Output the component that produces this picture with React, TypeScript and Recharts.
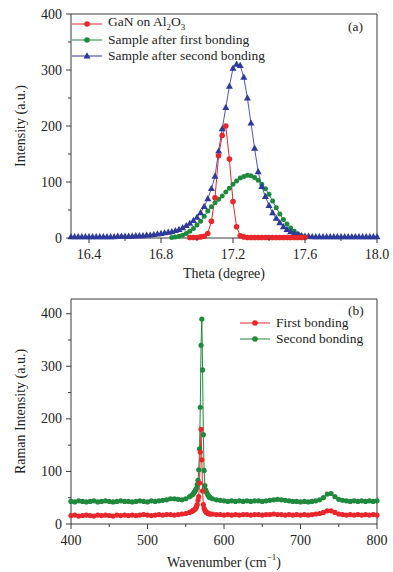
import React from 'react';
import { LineChart, Line, XAxis, YAxis, ReferenceLine } from 'recharts';

const FONT = "'Liberation Serif', 'DejaVu Serif', serif";
const AXIS = '#3a3a3a';
const TEXT = '#222';
const RED = '#e8262b';
const GREEN = '#1f8a3d';
const BLUE = '#2d3a9c';
const BLUE_LINE = '#4b56c6';

// (a) XRD rocking curves, read every 0.02 degree
const thetaDeg = [
  16.3, 16.32, 16.34, 16.36, 16.38, 16.4, 16.42, 16.44, 16.46, 16.48,
  16.5, 16.52, 16.54, 16.56, 16.58, 16.6, 16.62, 16.64, 16.66, 16.68,
  16.7, 16.72, 16.74, 16.76, 16.78, 16.8, 16.82, 16.84, 16.86, 16.88,
  16.9, 16.92, 16.94, 16.96, 16.98, 17.0, 17.02, 17.04, 17.06, 17.08,
  17.1, 17.12, 17.14, 17.16, 17.18, 17.2, 17.22, 17.24, 17.26, 17.28,
  17.3, 17.32, 17.34, 17.36, 17.38, 17.4, 17.42, 17.44, 17.46, 17.48,
  17.5, 17.52, 17.54, 17.56, 17.58, 17.6, 17.62, 17.64, 17.66, 17.68,
  17.7, 17.72, 17.74, 17.76, 17.78, 17.8, 17.82, 17.84, 17.86, 17.88,
  17.9, 17.92, 17.94, 17.96, 17.98, 18.0,
];
const secondBondingXrd = [
  2, 2, 2, 2, 2, 2, 2, 2, 2, 2,
  2, 2, 2, 3, 3, 3, 3, 3, 4, 4,
  4, 5, 5, 6, 7, 8, 9, 10, 11, 13,
  15, 18, 22, 26, 31, 37, 45, 56, 70, 88,
  110, 155, 195, 233, 271, 303, 310, 308, 287, 250,
  205, 160, 118, 92, 74, 58, 45, 35, 27, 20,
  15, 11, 8, 6, 4, 3, 3, 2, 2, 2,
  2, 2, 2, 2, 2, 2, 2, 2, 2, 2,
  2, 2, 2, 2, 2, 2,
];
// starts at 16.86
const FIRST_START = 28;
const firstBondingXrd = [
  1, 2, 3, 5, 8, 12, 17, 23, 30, 39,
  48, 56, 63, 69, 75, 82, 89, 96, 102, 107,
  110, 112, 111, 108, 103, 96, 88, 78, 66, 54,
  43, 33, 25, 18, 12, 7, 4, 2,
];
// starts at 16.96
const GAN_START = 33;
const ganOnSapphire = [
  1, 1, 1, 2, 3, 8, 30, 72, 147, 183,
  200, 141, 65, 20, 4, 2, 1, 1, 1, 1,
  1, 1, 1, 1, 1, 1, 1, 1, 1, 1,
  1, 1, 1,
];
const thetaTicks = [16.4, 16.6, 16.8, 17.0, 17.2, 17.4, 17.6, 17.8, 18.0];
const thetaLabels = [16.4, 16.8, 17.2, 17.6, 18.0];
const countTicks = [0, 50, 100, 150, 200, 250, 300, 350, 400];
const countLabels = [0, 100, 200, 300, 400];

// (b) Raman spectra
const wavenumbers = [
  400, 405, 410, 415, 420, 425, 430, 435, 440, 445,
  450, 455, 460, 465, 470, 475, 480, 485, 490, 495,
  500, 505, 510, 515, 520, 525, 530, 535, 540, 545,
  550, 555, 558, 559, 560, 561, 562, 563, 564, 565,
  566, 567, 568, 569, 570, 571, 572, 573, 574, 575,
  576, 577, 578, 579, 580, 581, 582, 585, 590, 595,
  600, 605, 610, 615, 620, 625, 630, 635, 640, 645,
  650, 655, 660, 665, 670, 675, 680, 685, 690, 695,
  700, 705, 710, 715, 720, 725, 730, 735, 740, 745,
  750, 755, 760, 765, 770, 775, 780, 785, 790, 795,
  800,
];
const ramanSecond = [
  43, 42, 44, 43, 42, 43, 44, 42, 43, 44,
  43, 42, 43, 44, 43, 43, 42, 43, 44, 43,
  42, 44, 43, 44, 45, 46, 48, 48, 47, 46,
  48, 52, 55, 56, 58, 60, 62, 65, 68, 75,
  83, 103, 143, 222, 340, 390, 293, 170, 102, 73,
  65, 61, 58, 55, 53, 51, 50, 48, 46, 45,
  44, 43, 44, 43, 44, 43, 44, 43, 44, 44,
  43, 44, 45, 46, 47, 46, 45, 44, 43, 43,
  42, 43, 42, 43, 44, 46, 50, 57, 58, 52,
  47, 45, 44, 43, 44, 43, 44, 43, 44, 43,
  44,
];
const ramanFirst = [
  16, 17, 15, 16, 17, 16, 15, 17, 16, 17,
  16, 15, 17, 16, 17, 16, 17, 16, 17, 18,
  17, 16, 17, 18, 17, 18, 18, 17, 18, 19,
  20, 22, 24, 25, 26, 27, 28, 30, 33, 37,
  45, 52, 78, 137, 180, 122, 63, 37, 30, 26,
  24, 22, 21, 20, 20, 19, 19, 19, 18, 18,
  17, 18, 17, 18, 17, 18, 18, 17, 18, 18,
  17, 18, 18, 19, 18, 18, 17, 18, 17, 18,
  17, 18, 17, 18, 19, 20, 22, 25, 25, 22,
  19, 18, 17, 18, 17, 18, 17, 18, 17, 18,
  17,
];
const waveTicks = [400, 450, 500, 550, 600, 650, 700, 750, 800];
const waveLabels = [400, 500, 600, 700, 800];
const ramanTicks = [0, 50, 100, 150, 200, 250, 300, 350, 400];
const ramanLabels = [0, 100, 200, 300, 400];

const xrdSecond = thetaDeg.map((t, i) => ({ x: t, y: secondBondingXrd[i] }));
const xrdFirst = firstBondingXrd.map((v, i) => ({ x: thetaDeg[FIRST_START + i], y: v }));
const xrdGan = ganOnSapphire.map((v, i) => ({ x: thetaDeg[GAN_START + i], y: v }));
const ramanSecondData = wavenumbers.map((w, i) => ({ x: w, y: ramanSecond[i] }));
const ramanFirstData = wavenumbers.map((w, i) => ({ x: w, y: ramanFirst[i] }));

const XTick = (props: any) => {
  const { x, y, payload, labels, digits } = props;
  const major = labels.includes(payload.value);
  return (
    <g>
      <line x1={x} x2={x} y1={y} y2={y + (major ? 5 : 3)} stroke={AXIS} />
      {major && (
        <text x={x} y={y + 16} textAnchor="middle" dominantBaseline="central"
          fontFamily={FONT} fontSize={14} fill={TEXT}>
          {Number(payload.value).toFixed(digits)}
        </text>
      )}
    </g>
  );
};

const YTick = (props: any) => {
  const { x, y, payload, labels } = props;
  const major = labels.includes(payload.value);
  return (
    <g>
      <line x1={x - (major ? 5 : 3)} x2={x} y1={y} y2={y} stroke={AXIS} />
      {major && (
        <text x={x - 9} y={y} textAnchor="end" dominantBaseline="central"
          fontFamily={FONT} fontSize={14} fill={TEXT}>
          {payload.value}
        </text>
      )}
    </g>
  );
};

const YTitle = (props: any) => {
  const { viewBox, text } = props;
  const cx = viewBox.x + 20;
  const cy = viewBox.y + viewBox.height / 2;
  return (
    <text x={cx} y={cy} transform={`rotate(-90 ${cx} ${cy})`} textAnchor="middle"
      dominantBaseline="central" fontFamily={FONT} fontSize={14} fill={TEXT}>
      {text}
    </text>
  );
};

const XTitle = (props: any) => {
  const { viewBox, dy, children } = props;
  return (
    <text x={viewBox.x + viewBox.width / 2} y={viewBox.y + dy} textAnchor="middle"
      dominantBaseline="central" fontFamily={FONT} fontSize={14} fill={TEXT}>
      {children}
    </text>
  );
};

const circleDot = (color: string, r: number) => (p: any) =>
  p.cx == null || p.cy == null
    ? <g key={`n${p.index}`} />
    : <circle key={`c${p.index}`} cx={p.cx} cy={p.cy} r={r} fill={color} />;

const triangleDot = (p: any) =>
  p.cx == null || p.cy == null
    ? <g key={`n${p.index}`} />
    : <polygon key={`t${p.index}`} fill={BLUE}
        points={`${p.cx},${p.cy - 3.8} ${p.cx - 3.5},${p.cy + 2.4} ${p.cx + 3.5},${p.cy + 2.4}`} />;

const LegendRow = ({ color, marker, children }: any) => (
  <div style={{ display: 'flex', alignItems: 'center', height: 16 }}>
    <svg width={30} height={10} style={{ flex: 'none' }}>
      <line x1={0} x2={30} y1={5} y2={5} stroke={color} strokeWidth={1} />
      {marker === 'tri' ? (
        <polygon points="15,1.2 11.5,7.4 18.5,7.4" fill={color} />
      ) : (
        <circle cx={15} cy={5} r={2.8} fill={color} />
      )}
    </svg>
    <span style={{ marginLeft: 6, whiteSpace: 'nowrap' }}>{children}</span>
  </div>
);

const textStyle: React.CSSProperties = {
  position: 'absolute', fontFamily: FONT, fontSize: 13.5, color: TEXT, lineHeight: '16px',
};

export default function App() {
  return (
    <div style={{ position: 'absolute', left: 0, top: 0, width: 393, height: 572, background: '#fff', overflow: 'hidden' }}>
      <div style={{ position: 'absolute', left: 0, top: 0 }}>
        <LineChart width={393} height={285} margin={{ top: 14, right: 16, bottom: 0, left: 0 }}>
          <XAxis dataKey="x" type="number" domain={[16.3, 18.0]} ticks={thetaTicks} interval={0}
            height={47} tickSize={0} tickMargin={0} tickLine={false}
            axisLine={{ stroke: AXIS }} tick={<XTick labels={thetaLabels} digits={1} />}
            label={<XTitle dy={35}>Theta (degree)</XTitle>} allowDuplicatedCategory={false} />
          <YAxis type="number" domain={[0, 400]} ticks={countTicks} interval={0} width={71}
            tickSize={0} tickMargin={0} tickLine={false} axisLine={{ stroke: AXIS }}
            tick={<YTick labels={countLabels} />} label={<YTitle text="Intensity (a.u.)" />} />
          <ReferenceLine y={400} stroke={AXIS} />
          <ReferenceLine x={18.0} stroke={AXIS} />
          <Line data={xrdFirst} dataKey="y" type="linear" stroke={GREEN} strokeWidth={1}
            dot={circleDot(GREEN, 2.5)} activeDot={false} isAnimationActive={false} />
          <Line data={xrdSecond} dataKey="y" type="linear" stroke={BLUE_LINE} strokeWidth={1}
            dot={triangleDot} activeDot={false} isAnimationActive={false} />
          <Line data={xrdGan} dataKey="y" type="linear" stroke={RED} strokeWidth={1}
            dot={circleDot(RED, 2.8)} activeDot={false} isAnimationActive={false} />
        </LineChart>
      </div>
      <div style={{ ...textStyle, left: 72, top: 16 }}>
        <LegendRow color={RED} marker="circle">GaN on Al<sub style={{ fontSize: 9 }}>2</sub>O<sub style={{ fontSize: 9 }}>3</sub></LegendRow>
        <LegendRow color={GREEN} marker="circle">Sample after first bonding</LegendRow>
        <LegendRow color={BLUE} marker="tri">Sample after second bonding</LegendRow>
      </div>
      <div style={{ ...textStyle, left: 348, top: 19 }}>(a)</div>

      <div style={{ position: 'absolute', left: 0, top: 285 }}>
        <LineChart width={393} height={287} margin={{ top: 14, right: 16, bottom: 0, left: 0 }}>
          <XAxis dataKey="x" type="number" domain={[400, 800]} ticks={waveTicks} interval={0}
            height={48} tickSize={0} tickMargin={0} tickLine={false}
            axisLine={{ stroke: AXIS }} tick={<XTick labels={waveLabels} digits={0} />}
            label={
              <XTitle dy={38}>
                Wavenumber (cm<tspan dy={-5} fontSize={9}>−1</tspan><tspan dy={5}>)</tspan>
              </XTitle>
            } allowDuplicatedCategory={false} />
          <YAxis type="number" domain={[0, 428]} ticks={ramanTicks} interval={0} width={71}
            tickSize={0} tickMargin={0} tickLine={false} axisLine={{ stroke: AXIS }}
            tick={<YTick labels={ramanLabels} />} label={<YTitle text="Raman Intensity (a.u.)" />} />
          <ReferenceLine y={428} stroke={AXIS} />
          <ReferenceLine x={800} stroke={AXIS} />
          <Line data={ramanSecondData} dataKey="y" type="linear" stroke={GREEN} strokeWidth={1}
            dot={circleDot(GREEN, 2.6)} activeDot={false} isAnimationActive={false} />
          <Line data={ramanFirstData} dataKey="y" type="linear" stroke={RED} strokeWidth={1}
            dot={circleDot(RED, 2.6)} activeDot={false} isAnimationActive={false} />
        </LineChart>
      </div>
      <div style={{ ...textStyle, left: 240, top: 315 }}>
        <LegendRow color={RED} marker="circle">First bonding</LegendRow>
        <LegendRow color={GREEN} marker="circle">Second bonding</LegendRow>
      </div>
      <div style={{ ...textStyle, left: 348, top: 303 }}>(b)</div>
    </div>
  );
}
